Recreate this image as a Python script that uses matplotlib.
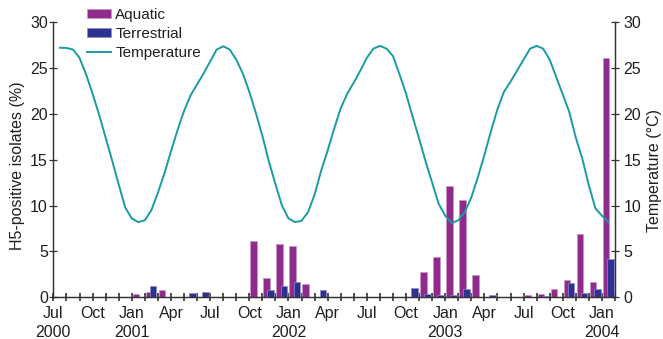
import numpy as np
import matplotlib
matplotlib.use("Agg")
from matplotlib import pyplot as plt
from matplotlib.patches import Patch
from matplotlib.lines import Line2D

plt.rcParams['font.family'] = ['Liberation Sans', 'DejaVu Sans']

# months from Jul 2000 (index 0) to Jan 2004 (index 42)
month_names = ["Jul", "Aug", "Sep", "Oct", "Nov", "Dec",
               "Jan", "Feb", "Mar", "Apr", "May", "Jun"]
n_months = 43
year_labels = {0: "2000", 6: "2001", 18: "2002", 30: "2003", 42: "2004"}

# H5-positive isolates (%)
aquatic = [0, 0, 0, 0, 0, 0,
           0.33, 0.6, 0.8, 0, 0, 0,
           0, 0, 0, 6.17, 2.07, 5.84,
           5.55, 1.45, 0, 0, 0, 0,
           0, 0, 0, 0, 2.8, 4.43,
           12.17, 10.57, 2.4, 0, 0, 0,
           0.25, 0.4, 0.87, 1.85, 6.94, 1.63,
           26.1]
terrestrial = [0, 0, 0, 0, 0, 0,
               0, 1.27, 0, 0, 0.47, 0.54,
               0, 0, 0, 0, 0.8, 1.23,
               1.7, 0, 0.85, 0, 0, 0,
               0, 0, 0, 1.06, 0.36, 0.29,
               0.29, 0.87, 0, 0.22, 0, 0,
               0, 0.13, 0, 1.56, 0.51, 0.95,
               4.2]
# temperature (C), read every half month from mid Jul 2000 to mid Jan 2004
temperature = [27.2, 27.17, 27.0, 26.1, 24.3, 22.2, 19.9, 17.4, 14.9, 12.3,
               9.8, 8.6, 8.2, 8.4, 9.5, 11.4, 13.5, 15.9, 18.2, 20.3,
               22.0, 23.2, 24.4, 25.7, 27.0, 27.35, 27.0, 25.9, 24.4, 22.4,
               20.1, 17.6, 14.8, 12.35, 10.0, 8.6, 8.2, 8.35, 9.3, 11.2,
               13.8, 16.0, 18.4, 20.6, 22.2, 23.4, 24.7, 26.1, 27.1, 27.4,
               27.1, 26.3, 24.3, 22.2, 19.7, 17.3, 14.8, 12.5, 10.2, 8.9,
               8.1, 8.4, 9.3, 10.9, 13.1, 15.5, 18.1, 20.5, 22.4, 23.5,
               24.7, 25.9, 27.1, 27.4, 27.1, 25.9, 24.0, 22.1, 20.2, 17.4,
               15.1, 12.2, 9.7, 8.9, 8.2]

c_aq = "#912a8d"
c_te = "#2e3192"
c_temp = "#1a9ba1"
c_txt = "#231f20"

fig = plt.figure(figsize=(6.63, 3.39), dpi=100)
ax = fig.add_axes([53.4/663, 1-297.4/339, (615-53.4)/663, (297.4-22)/339])

m = np.arange(n_months)
ax.bar(m + 0.32, aquatic, width=0.5, color=c_aq, edgecolor="#c796c4", linewidth=0.5, zorder=2)
ax.bar(m + 0.64, terrestrial, width=0.5, color=c_te, edgecolor="#8a8cc4", linewidth=0.5, zorder=3)

ax2 = ax.twinx()
t_x = 0.5 + 0.5 * np.arange(len(temperature))
ax2.plot(t_x, temperature, color=c_temp, lw=1.4, solid_joinstyle="round")

for a in (ax, ax2):
    a.set_xlim(0, 43)
    a.set_ylim(0, 30)
    a.set_yticks(range(0, 31, 5))
    a.spines["top"].set_visible(False)
    for s in a.spines.values():
        s.set_color("#333333")
        s.set_linewidth(0.9)

ticks = list(range(0, 44))
labels = []
for t in ticks:
    if t % 3 == 0 and t <= 42:
        lab = month_names[t % 12]
        if t in year_labels:
            lab += "\n" + year_labels[t]
        labels.append(lab)
    else:
        labels.append("")
ax.set_xticks(ticks)
ax.set_xticklabels(labels, linespacing=1.38)
ax.tick_params(axis="x", direction="inout", length=6, width=1.1, color="#222222",
               labelsize=11.5, labelcolor=c_txt, pad=3)
ax.tick_params(axis="y", direction="inout", length=6, width=0.9, color="#333333",
               labelsize=11.5, labelcolor=c_txt, pad=1)
ax2.tick_params(axis="y", direction="inout", length=6, width=0.9, color="#333333",
                labelsize=11.5, labelcolor=c_txt, pad=3)

fig.text(18/663, 1-166/339, "H5-positive isolates (%)", rotation=90,
         ha="center", va="center", fontsize=11.5, color=c_txt)
fig.text(655/663, 1-170/339, "Temperature (°C)", rotation=90,
         ha="center", va="center", fontsize=11.5, color=c_txt)

handles = [Patch(facecolor=c_aq, edgecolor="#c796c4", linewidth=0.5),
           Patch(facecolor=c_te, edgecolor="#8a8cc4", linewidth=0.5),
           Line2D([], [], color=c_temp, lw=1.4)]
fig.legend(handles, ["Aquatic", "Terrestrial", "Temperature"],
           loc="upper left", bbox_to_anchor=(87/663, 1-8/339), frameon=False,
           fontsize=11, handlelength=1.6, handleheight=0.45, handletextpad=0.25,
           labelspacing=0.32, borderpad=0, borderaxespad=0, labelcolor=c_txt)

fig.savefig("out.png", dpi=100)
